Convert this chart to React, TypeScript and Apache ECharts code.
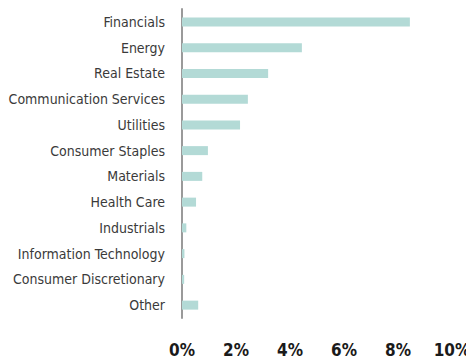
import React, { useEffect, useRef } from "react";
import * as echarts from "echarts";

const categories = [
  "Financials",
  "Energy",
  "Real Estate",
  "Communication Services",
  "Utilities",
  "Consumer Staples",
  "Materials",
  "Health Care",
  "Industrials",
  "Information Technology",
  "Consumer Discretionary",
  "Other",
];
const values = [8.44, 4.44, 3.19, 2.44, 2.15, 0.96, 0.75, 0.52, 0.16, 0.09, 0.08, 0.6];
const xTicks = { min: 0, max: 10, interval: 2 };

const FONT = '"Liberation Sans Narrow", "DejaVu Sans Condensed", "Roboto", sans-serif';

export default function App() {
  const ref = useRef<HTMLDivElement>(null);
  useEffect(() => {
    if (!ref.current) return;
    const chart = echarts.init(ref.current, undefined, { renderer: "svg" });
    chart.setOption({
      animation: false,
      backgroundColor: "#ffffff",
      grid: { left: 182, right: 22, top: 9, bottom: 38, containLabel: false },
      xAxis: {
        type: "value",
        min: xTicks.min,
        max: xTicks.max,
        interval: xTicks.interval,
        axisLine: { show: false },
        axisTick: { show: false },
        splitLine: { show: false },
        axisLabel: {
          formatter: "{value}%",
          fontFamily: FONT,
          fontWeight: "bold",
          fontSize: 17,
          color: "#1a1a1a",
          margin: 23,
        },
      },
      yAxis: {
        type: "category",
        data: categories,
        inverse: true,
        axisLine: { show: true, lineStyle: { color: "#9a9a9a", width: 2 } },
        axisTick: { show: false },
        axisLabel: {
          fontFamily: FONT,
          fontSize: 14,
          color: "#3a3a3a",
          margin: 17,
        },
      },
      series: [
        {
          type: "bar",
          data: values,
          barWidth: 9,
          itemStyle: { color: "#b3dad6" },
        },
      ],
    });
    return () => chart.dispose();
  }, []);
  return <div ref={ref} style={{ width: 474, height: 358, marginLeft: -8, marginTop: -8 }} />;
}
